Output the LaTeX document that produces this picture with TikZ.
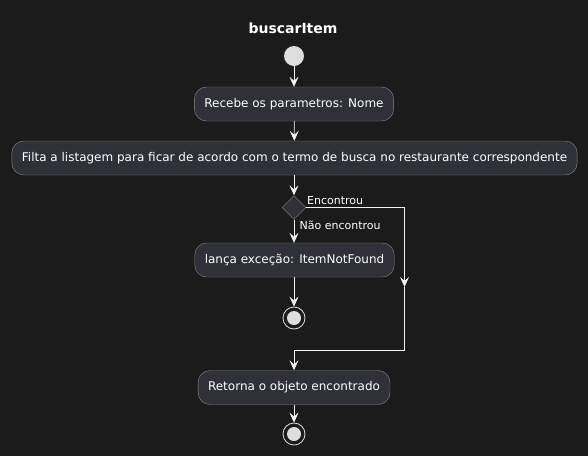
\documentclass[tikz,border=0pt]{standalone}
\usepackage{fontspec}
\setmainfont{DejaVu Sans}
\usetikzlibrary{arrows.meta,shapes.geometric}
\definecolor{fundo}{HTML}{1B1B1B}
\definecolor{caixa}{HTML}{2F3038}
\definecolor{borda}{HTML}{8A8A8A}
\definecolor{linha}{HTML}{F2F2F2}
\definecolor{bola}{HTML}{DDDDDD}
\tikzset{
  acao/.style={draw=borda, fill=caixa, rounded corners=12pt, text=white,
    font=\fontsize{12}{14}\selectfont, minimum height=34pt, inner xsep=10pt},
  decisao/.style={diamond, draw=borda, fill=caixa, minimum width=24pt,
    minimum height=24pt, inner sep=0pt},
  rotulo/.style={text=white, font=\fontsize{11}{13}\selectfont, anchor=west, inner sep=0pt},
  fluxo/.style={draw=linha, line width=0.8pt, -{Stealth[length=10pt,width=9pt,inset=4pt]}},
  seg/.style={draw=linha, line width=0.8pt}
}
\begin{document}
\begin{tikzpicture}[x=1pt,y=-1pt]
      %fundo
      \fill[fundo] (0,0) rectangle (588,456);
      \useasboundingbox (0,0) rectangle (588,456);
      %titulo
      \node[text=white, font=\bfseries\fontsize{14}{16}\selectfont] (titulo) at (293,28) {buscarItem};
      %nos
      \node[circle, fill=bola, minimum size=20pt, inner sep=0pt] (inicio) at (294,56) {};
      \node[acao] (recebe) at (294,104) {Recebe os parametros: Nome};
      \node[acao] (filtra) at (294.5,158) {Filta a listagem para ficar de acordo com o termo de busca no restaurante correspondente};
      \node[decisao] (d) at (294,207.5) {};
      \node[acao] (lanca) at (294.5,260) {lança exceção: ItemNotFound};
      \node[circle, draw=bola, line width=0.8pt, minimum size=22pt, inner sep=0pt] (fim1) at (294,318) {};
      \fill[bola] (fim1.center) circle (7pt);
      \node[acao] (retorna) at (294,387.5) {Retorna o objeto encontrado};
      \node[circle, draw=bola, line width=0.8pt, minimum size=22pt, inner sep=0pt] (fim2) at (294,434) {};
      \fill[bola] (fim2.center) circle (7pt);
      %desvio
      \coordinate (dr) at (404.5,207.5);
      \coordinate (dm) at (404.5,287);
      \coordinate (db) at (404.5,350);
      \coordinate (dl) at (294,350);
      %setas
      \draw[fluxo] (inicio) -- (recebe);
      \draw[fluxo] (recebe) -- (filtra);
      \draw[fluxo] (filtra.south -| d.north) -- (d);
      \draw[fluxo] (d) -- (d |- lanca.north);
      \draw[fluxo] (lanca.south -| fim1) -- (fim1);
      \draw[seg] (d.east) -- (dr);
      \draw[fluxo] (dr) -- (dm);
      \draw[seg] (dm) -- (db) -- (dl);
      \draw[fluxo] (dl) -- (retorna);
      \draw[fluxo] (retorna) -- (fim2);
      %rotulos
      \node[rotulo] (sim) at (307,201) {Encontrou};
      \node[rotulo] (nao) at (299.5,225.5) {Não encontrou};
\end{tikzpicture}
\end{document}
